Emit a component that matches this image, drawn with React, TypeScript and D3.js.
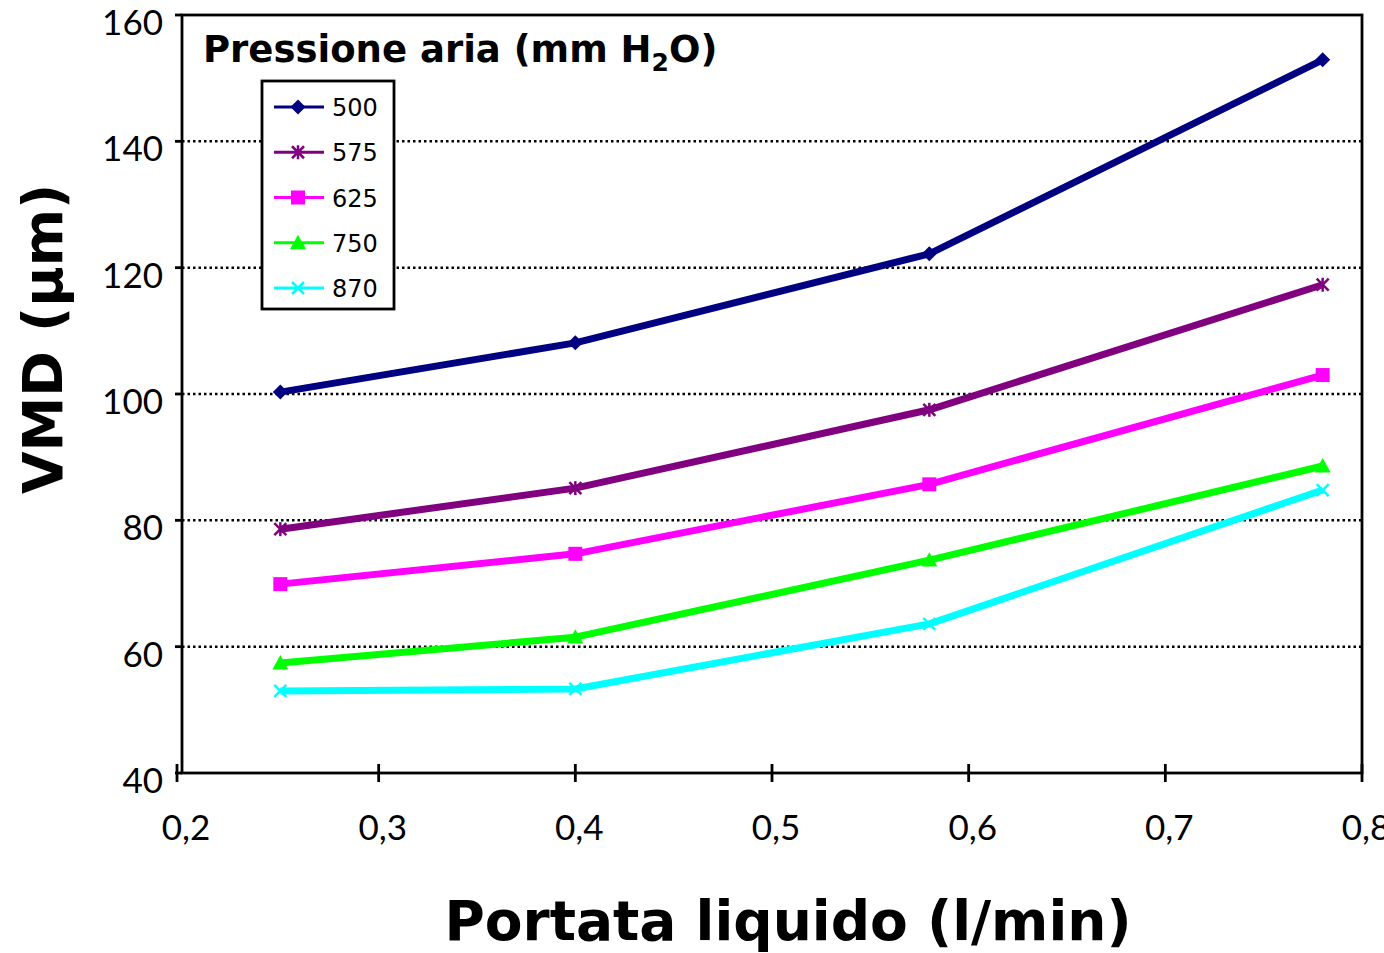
import React from "react";
import * as d3 from "d3";

const xValues = [0.25, 0.4, 0.58, 0.78];
const seriesNames = ["500", "575", "625", "750", "870"];
const series500 = [100.3, 108.1, 122.2, 152.9];
const series575 = [78.6, 85.1, 97.5, 117.3];
const series625 = [69.9, 74.7, 85.7, 103.0];
const series750 = [57.4, 61.5, 73.7, 88.6];
const series870 = [53.0, 53.3, 63.6, 84.8];
const seriesColors = ["#000080", "#800080", "#FF00FF", "#00FF00", "#00FFFF"];
const seriesMarkers = ["diamond", "asterisk", "square", "triangle", "cross"];
const xTicks = [0.2, 0.3, 0.4, 0.5, 0.6, 0.7, 0.8];
const yTicks = [40, 60, 80, 100, 120, 140, 160];

const allSeries = [series500, series575, series625, series750, series870];

const W = 1384, H = 953;
const L = 182, R = 1362, T = 15, B = 773;

function Marker({ type, x, y, color }: { type: string; x: number; y: number; color: string }) {
  if (type === "diamond") {
    const s = 7.5;
    return <path d={`M${x},${y - s}L${x + s},${y}L${x},${y + s}L${x - s},${y}Z`} fill={color} />;
  }
  if (type === "square") {
    const s = 7;
    return <rect x={x - s} y={y - s} width={2 * s} height={2 * s} fill={color} />;
  }
  if (type === "triangle") {
    const s = 8;
    return <path d={`M${x},${y - s}L${x + s},${y + s * 0.8}L${x - s},${y + s * 0.8}Z`} fill={color} />;
  }
  if (type === "asterisk") {
    const s = 6;
    return (
      <g stroke={color} strokeWidth={2.5}>
        <line x1={x - s} y1={y - s} x2={x + s} y2={y + s} />
        <line x1={x - s} y1={y + s} x2={x + s} y2={y - s} />
        <line x1={x} y1={y - s - 1} x2={x} y2={y + s + 1} />
      </g>
    );
  }
  const s = 6;
  return (
    <g stroke={color} strokeWidth={2.5}>
      <line x1={x - s} y1={y - s} x2={x + s} y2={y + s} />
      <line x1={x - s} y1={y + s} x2={x + s} y2={y - s} />
    </g>
  );
}

export default function App() {
  const x = d3.scaleLinear().domain([0.2, 0.8]).range([L, R]);
  const y = d3.scaleLinear().domain([40, 160]).range([B, T]);
  const line = d3
    .line<number>()
    .x((_, i) => x(xValues[i]))
    .y((d) => y(d));
  const fmt = (v: number) => d3.format(".1f")(v).replace(".", ",");
  const tickFont = "Lato, 'Open Sans', sans-serif";
  const boldFont = "'DejaVu Sans', Verdana, sans-serif";

  return (
    <svg width={W} height={H} style={{ position: "absolute", left: 0, top: 0, background: "#fff" }}>
      <rect x={0} y={0} width={W} height={H} fill="#fff" />
      {/* gridlines */}
      {yTicks
        .filter((t) => t > 40 && t < 160)
        .map((t) => (
          <line key={t} x1={L} x2={R} y1={y(t)} y2={y(t)} stroke="#000" strokeWidth={2.5} strokeDasharray="2.5,3" />
        ))}
      {/* plot frame */}
      <rect x={L} y={T} width={R - L} height={B - T} fill="none" stroke="#000" strokeWidth={2.8} />
      {/* y ticks */}
      {yTicks.map((t) => (
        <g key={t}>
          <line x1={L - 7} x2={L} y1={y(t)} y2={y(t)} stroke="#000" strokeWidth={2.8} />
          <text x={163} y={y(t) + 20} textAnchor="end" fontFamily={tickFont} fontSize={35} fill="#000">
            {t}
          </text>
        </g>
      ))}
      {/* x ticks */}
      {xTicks.map((t) => (
        <g key={t}>
          <line x1={x(t) - (t === 0.2 ? 5 : 0)} x2={x(t) - (t === 0.2 ? 5 : 0)} y1={B - 9} y2={B + 9} stroke="#000" strokeWidth={2.8} />
          <text x={x(t) + 4} y={840} textAnchor="middle" fontFamily={tickFont} fontSize={35} fill="#000">
            {fmt(t)}
          </text>
        </g>
      ))}
      {/* series */}
      {allSeries.map((s, si) => (
        <g key={si}>
          <path d={line(s) || ""} fill="none" stroke={seriesColors[si]} strokeWidth={7} strokeLinejoin="round" />
          {s.map((v, i) => (
            <Marker key={i} type={seriesMarkers[si]} x={x(xValues[i])} y={y(v)} color={seriesColors[si]} />
          ))}
        </g>
      ))}
      {/* legend title */}
      <text x={203} y={62} fontFamily={boldFont} fontWeight="bold" fontSize={37} fill="#000">
        Pressione aria (mm H<tspan fontSize={25} dy={9}>2</tspan>
        <tspan dy={-9}>O)</tspan>
      </text>
      {/* legend box */}
      <rect x={262} y={81} width={132} height={228} fill="#fff" stroke="#000" strokeWidth={2.8} />
      {seriesNames.map((n, i) => {
        const ly = 107 + i * 45.25;
        return (
          <g key={n}>
            <line x1={274} x2={324} y1={ly} y2={ly} stroke={seriesColors[i]} strokeWidth={2.8} />
            <Marker type={seriesMarkers[i]} x={298} y={ly} color={seriesColors[i]} />
            <text x={332} y={ly + 9} fontFamily={boldFont} fontSize={24} fill="#000">
              {n}
            </text>
          </g>
        );
      })}
      {/* axis titles */}
      <text x={788} y={940} textAnchor="middle" fontFamily={boldFont} fontWeight="bold" fontSize={55} fill="#000">
        Portata liquido (l/min)
      </text>
      <text
        transform={`translate(62,339) rotate(-90)`}
        textAnchor="middle"
        fontFamily={boldFont}
        fontWeight="bold"
        fontSize={55}
        fill="#000"
      >
        VMD (µm)
      </text>
    </svg>
  );
}
